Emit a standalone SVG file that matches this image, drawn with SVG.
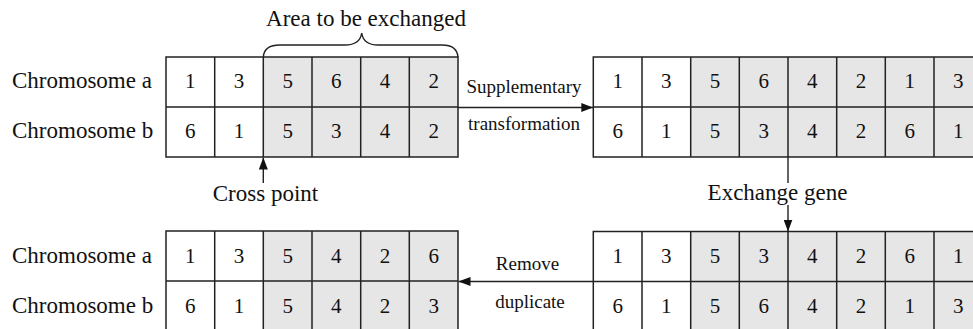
<svg xmlns="http://www.w3.org/2000/svg" width="973" height="329" viewBox="0 0 973 329" font-family="Liberation Serif, DejaVu Serif, serif">
  <defs>
    <style>
      text { font-family: 'Liberation Serif', 'DejaVu Serif', serif; fill: #111; }
      .lbl { font-size: 23px; }
      .num { font-size: 21px; text-anchor: middle; }
      .small { font-size: 19px; text-anchor: middle; }
      .mid { text-anchor: middle; }
      .shade { fill: #e6e6e6; stroke: none; }
      .grid { fill: none; stroke: #222; stroke-width: 1.5; }
      .conn { fill: none; stroke: #222; stroke-width: 1.4; }
    </style>
    <marker id="arrow" viewBox="0 0 12 9" refX="12" refY="4.5" markerWidth="12" markerHeight="9" markerUnits="userSpaceOnUse" orient="auto">
      <path d="M0,0 L12,4.5 L0,9 z" fill="#111"/>
    </marker>
  </defs>
  <rect width="973" height="329" fill="#fff"/>

  <!-- Row labels -->
  <g id="labels" class="lbl">
    <text x="12" y="88">Chromosome a</text>
    <text x="12" y="138">Chromosome b</text>
    <text x="12" y="263">Chromosome a</text>
    <text x="12" y="313">Chromosome b</text>
  </g>

  <!-- Parent chromosomes with crossover region -->
  <g id="parents">
    <rect class="shade" x="263.3" y="57" width="194.7" height="100"/>
    <rect class="grid" x="166" y="57" width="292" height="100"/>
    <path class="grid" d="M166 107H458M214.7 57V157M263.3 57V157M312 57V157M360.7 57V157M409.3 57V157"/>
    <g class="num">
      <text x="190.3" y="88">1</text><text x="239" y="88">3</text><text x="287.7" y="88">5</text><text x="336.3" y="88">6</text><text x="385" y="88">4</text><text x="433.7" y="88">2</text>
      <text x="190.3" y="138">6</text><text x="239" y="138">1</text><text x="287.7" y="138">5</text><text x="336.3" y="138">3</text><text x="385" y="138">4</text><text x="433.7" y="138">2</text>
    </g>
  </g>

  <!-- Brace over the exchange region -->
  <g id="exchange-area">
    <path class="conn" d="M263.3 57 Q264 45 280 45 L345 45 Q360 45 361.7 33 Q363.5 45 378 45 L442 45 Q457 45 458 57"/>
    <text class="lbl mid" x="366" y="26">Area to be exchanged</text>
  </g>

  <!-- Supplemented chromosomes -->
  <g id="supplemented">
    <rect class="shade" x="690.7" y="57" width="300" height="100"/>
    <path class="grid" d="M980 57H593.3V157H980M593.3 107H980M642 57V157M690.7 57V157M739.3 57V157M788 57V157M836.7 57V157M885.3 57V157M934 57V157"/>
    <g class="num">
      <text x="617.7" y="88">1</text><text x="666.3" y="88">3</text><text x="715" y="88">5</text><text x="763.7" y="88">6</text><text x="812.3" y="88">4</text><text x="861" y="88">2</text><text x="909.7" y="88">1</text><text x="958.3" y="88">3</text>
      <text x="617.7" y="138">6</text><text x="666.3" y="138">1</text><text x="715" y="138">5</text><text x="763.7" y="138">3</text><text x="812.3" y="138">4</text><text x="861" y="138">2</text><text x="909.7" y="138">6</text><text x="958.3" y="138">1</text>
    </g>
  </g>

  <!-- Chromosomes after gene exchange -->
  <g id="exchanged">
    <rect class="shade" x="690.7" y="231.5" width="300" height="110"/>
    <path class="grid" d="M980 231.5H593.3V340M593.3 281.5H980M642 231.5V340M690.7 231.5V340M739.3 231.5V340M788 231.5V340M836.7 231.5V340M885.3 231.5V340M934 231.5V340"/>
    <g class="num">
      <text x="617.7" y="263">1</text><text x="666.3" y="263">3</text><text x="715" y="263">5</text><text x="763.7" y="263">3</text><text x="812.3" y="263">4</text><text x="861" y="263">2</text><text x="909.7" y="263">6</text><text x="958.3" y="263">1</text>
      <text x="617.7" y="313">6</text><text x="666.3" y="313">1</text><text x="715" y="313">5</text><text x="763.7" y="313">6</text><text x="812.3" y="313">4</text><text x="861" y="313">2</text><text x="909.7" y="313">1</text><text x="958.3" y="313">3</text>
    </g>
  </g>

  <!-- Offspring after duplicate removal -->
  <g id="offspring">
    <rect class="shade" x="263.3" y="231" width="194.7" height="110"/>
    <path class="grid" d="M166 340V231H458V340M166 281H458M214.7 231V340M263.3 231V340M312 231V340M360.7 231V340M409.3 231V340"/>
    <g class="num">
      <text x="190.3" y="263">1</text><text x="239" y="263">3</text><text x="287.7" y="263">5</text><text x="336.3" y="263">4</text><text x="385" y="263">2</text><text x="433.7" y="263">6</text>
      <text x="190.3" y="313">6</text><text x="239" y="313">1</text><text x="287.7" y="313">5</text><text x="336.3" y="313">4</text><text x="385" y="313">2</text><text x="433.7" y="313">3</text>
    </g>
  </g>

  <!-- Connectors -->
  <g id="connectors">
    <path class="conn" d="M458 107.5H593.3" marker-end="url(#arrow)"/>
    <path class="conn" d="M263.3 183V157.5" marker-end="url(#arrow)"/>
    <path class="conn" d="M788 157V183"/>
    <path class="conn" d="M788 205V231.5" marker-end="url(#arrow)"/>
    <path class="conn" d="M593.3 281.5H458.5" marker-end="url(#arrow)"/>
  </g>

  <!-- Connector labels -->
  <g id="connector-labels">
    <text class="small" x="524" y="93">Supplementary</text>
    <text class="small" x="524" y="130">transformation</text>
    <text class="lbl mid" x="265.5" y="201">Cross point</text>
    <text class="lbl mid" x="777.5" y="200">Exchange gene</text>
    <text class="small" x="527.5" y="270">Remove</text>
    <text class="small" x="530" y="308">duplicate</text>
  </g>
</svg>
